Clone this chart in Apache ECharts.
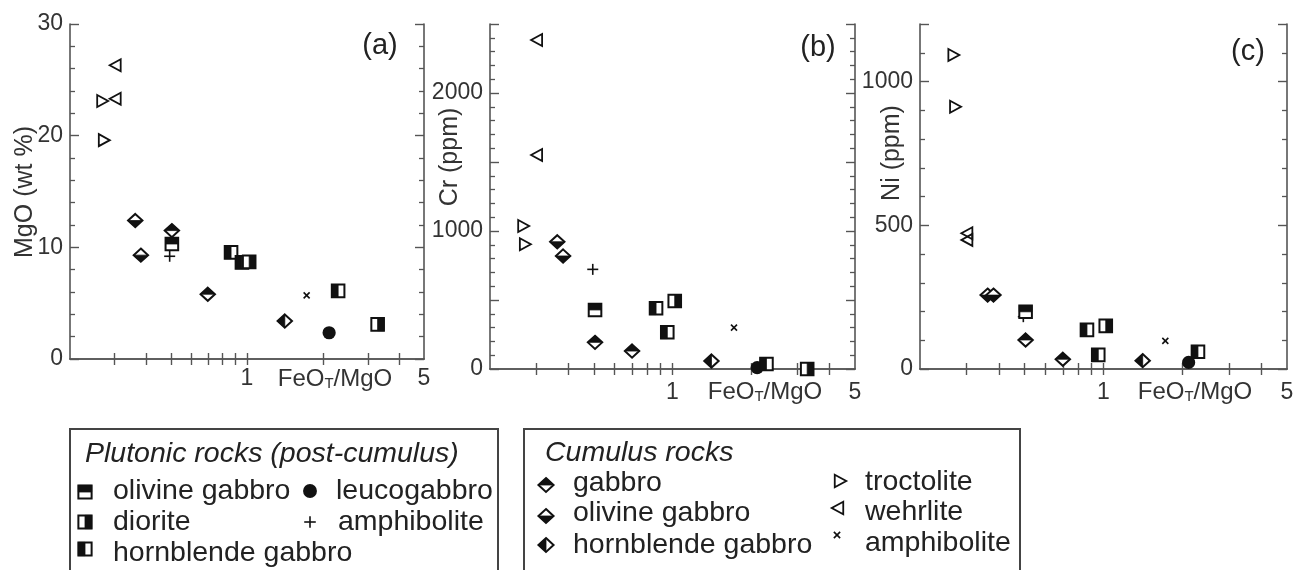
<!DOCTYPE html>
<html>
<head>
<meta charset="utf-8">
<script src="https://cdn.jsdelivr.net/npm/echarts@6/dist/echarts.min.js"></script>
<style>
  html, body { margin: 0; padding: 0; background: #fff; }
  #chart { width: 1310px; height: 570px; }
</style>
</head>
<body>
<div id="chart"></div>
<script>
  // FeOT/MgO of each sample, and MgO (wt %), Cr (ppm), Ni (ppm) per panel
  // plutonic rocks (post-cumulus)
  var plOlGabbroX = [0.505]
  var plOlGabbroMgO = [10.3]
  var plOlGabbroCr = [428]
  var plOlGabbroNi = [199]

  var dioriteX = [1.02, 3.28]
  var dioriteMgO = [8.7, 3.1]
  var dioriteCr = [493, 0]
  var dioriteNi = [150, null]

  var plHblGabbroX = [0.865, 0.955, 2.29]
  var plHblGabbroMgO = [9.55, 8.65, 6.1]
  var plHblGabbroCr = [440, 266, 36]
  var plHblGabbroNi = [136, 49, 60]

  var leucogabbroX = [2.11]
  var leucogabbroMgO = [2.35]
  var leucogabbroCr = [10]
  var leucogabbroNi = [23]

  var plAmphX = [0.495]
  var plAmphMgO = [9.2]
  var plAmphCr = [722]
  var plAmphNi = [182]

  // cumulus rocks
  var cuGabbroX = [0.505, 0.70]
  var cuGabbroMgO = [11.5, 5.8]
  var cuGabbroCr = [193, 130]
  var cuGabbroNi = [101, 34]

  var cuOlGabbroX = [0.362, 0.381]
  var cuOlGabbroMgO = [12.4, 9.3]
  var cuOlGabbroCr = [922, 819]
  var cuOlGabbroNi = [257, 257]

  var cuHblGabbroX = [1.41]
  var cuHblGabbroMgO = [3.4]
  var cuHblGabbroCr = [58]
  var cuHblGabbroNi = [29]

  var troctoliteX = [0.268, 0.272]
  var troctoliteMgO = [23.1, 19.6]
  var troctoliteCr = [1036, 904]
  var troctoliteNi = [1092, 912]

  var wehrliteX = [0.303, 0.303]
  var wehrliteMgO = [26.3, 23.3]
  var wehrliteCr = [2384, 1551]
  var wehrliteNi = [472, 449]

  var cuAmphX = [1.72]
  var cuAmphMgO = [5.7]
  var cuAmphCr = [300]
  var cuAmphNi = [98]

  // axes
  var xTicks = [0.3, 0.4, 0.5, 0.6, 0.7, 0.8, 0.9, 1, 2, 3, 4]
  var xLabels = [1, 5]
  var yTitles = ['MgO (wt %)', 'Cr (ppm)', 'Ni (ppm)']
  var panelTags = ['(a)', '(b)', '(c)']

  var INK = '#111'
  var AXIS = '#555'
  var FONT = '"Liberation Sans", Arial, sans-serif'

  var panels = [
    { left: 70, top: 24, width: 354, height: 335, yMax: 30, yMajor: 10, yLabelEvery: 10, xMargin: 8,
      yName: [25, 192], tag: [380, 46], xName: [335, 379] },
    { left: 490, top: 24, width: 365, height: 345, yMax: 2500, yMajor: 500, yLabelEvery: 1000, xMargin: 12,
      yName: [450, 157], tag: [818, 48], xName: [765, 392] },
    { left: 920, top: 24, width: 367, height: 345, yMax: 1200, yMajor: 500, yLabelEvery: 500, xMargin: 12,
      yName: [892, 153], tag: [1248, 52], xName: [1195, 392] }
  ]

  function markerShapes(kind, x, y, k) {
    k = k || 1
    var out = []
    var s = 6.3 * k
    function outline(pts, fill, lw) {
      out.push({ type: 'polygon', shape: { points: pts }, style: { fill: fill, stroke: INK, lineWidth: lw || 1.5 } })
    }
    function solid(pts) {
      out.push({ type: 'polygon', shape: { points: pts }, style: { fill: INK, stroke: INK, lineWidth: 0.8 } })
    }
    function seg(x1, y1, x2, y2, lw) {
      out.push({ type: 'line', shape: { x1: x1, y1: y1, x2: x2, y2: y2 }, style: { stroke: INK, lineWidth: lw } })
    }
    var sq = [[x - s, y - s], [x + s, y - s], [x + s, y + s], [x - s, y + s]]
    var dw = 7.2 * k, dh = 6.6 * k
    var dm = [[x, y - dh], [x + dw, y], [x, y + dh], [x - dw, y]]
    switch (kind) {
      case 'sqTop':
        outline(sq, '#fff', 2); solid([[x - s, y - s], [x + s, y - s], [x + s, y], [x - s, y]]); break
      case 'sqRight':
        outline(sq, '#fff', 2); solid([[x, y - s], [x + s, y - s], [x + s, y + s], [x, y + s]]); break
      case 'sqLeft':
        outline(sq, '#fff', 2); solid([[x - s, y - s], [x, y - s], [x, y + s], [x - s, y + s]]); break
      case 'dTop':
        outline(dm, '#fff', 2); solid([[x, y - dh], [x + dw, y], [x - dw, y]]); break
      case 'dBottom':
        outline(dm, '#fff', 2); solid([[x + dw, y], [x, y + dh], [x - dw, y]]); break
      case 'dLeft':
        outline(dm, '#fff', 2); solid([[x, y - dh], [x, y + dh], [x - dw, y]]); break
      case 'circle':
        out.push({ type: 'circle', shape: { cx: x, cy: y, r: 6.6 * k }, style: { fill: INK } }); break
      case 'plus':
        seg(x - 5.5 * k, y, x + 5.5 * k, y, 1.6); seg(x, y - 5.5 * k, x, y + 5.5 * k, 1.6); break
      case 'cross':
        seg(x - 3 * k, y - 3 * k, x + 3 * k, y + 3 * k, 1.6); seg(x - 3 * k, y + 3 * k, x + 3 * k, y - 3 * k, 1.6); break
      case 'triRight':
        outline([[x - 5 * k, y - 6 * k], [x + 6 * k, y], [x - 5 * k, y + 6 * k]], 'none', 1.8); break
      case 'triLeft':
        outline([[x + 5 * k, y - 6 * k], [x - 6 * k, y], [x + 5 * k, y + 6 * k]], 'none', 1.8); break
    }
    return out
  }

  // drawing order: later ones on top
  var groups = [
    ['circle', leucogabbroX, [leucogabbroMgO, leucogabbroCr, leucogabbroNi]],
    ['triRight', troctoliteX, [troctoliteMgO, troctoliteCr, troctoliteNi]],
    ['triLeft', wehrliteX, [wehrliteMgO, wehrliteCr, wehrliteNi]],
    ['dTop', cuGabbroX, [cuGabbroMgO, cuGabbroCr, cuGabbroNi]],
    ['dBottom', cuOlGabbroX, [cuOlGabbroMgO, cuOlGabbroCr, cuOlGabbroNi]],
    ['dLeft', cuHblGabbroX, [cuHblGabbroMgO, cuHblGabbroCr, cuHblGabbroNi]],
    ['cross', cuAmphX, [cuAmphMgO, cuAmphCr, cuAmphNi]],
    ['plus', plAmphX, [plAmphMgO, plAmphCr, plAmphNi]],
    ['sqTop', plOlGabbroX, [plOlGabbroMgO, plOlGabbroCr, plOlGabbroNi]],
    ['sqLeft', plHblGabbroX, [plHblGabbroMgO, plHblGabbroCr, plHblGabbroNi]],
    ['sqRight', dioriteX, [dioriteMgO, dioriteCr, dioriteNi]]
  ]

  var grids = [], xAxes = [], yAxes = [], series = [], graphics = []

  panels.forEach(function (p, gi) {
    grids.push({ left: p.left, top: p.top, width: p.width, height: p.height })
    ;['bottom', 'top'].forEach(function (pos) {
      xAxes.push({
        type: 'log', logBase: 10, min: 0.2, max: 5, gridIndex: gi, position: pos,
        axisLine: { show: true, lineStyle: { color: AXIS, width: 1.6 } },
        axisTick: { show: true, inside: true, length: 6, customValues: xTicks, lineStyle: { color: AXIS, width: 1.4 } },
        axisLabel: {
          show: pos === 'bottom', customValues: xLabels, margin: p.xMargin,
          color: '#333', fontSize: 23, fontFamily: FONT,
          formatter: function (v) { return String(Math.round(v)) }
        },
        splitLine: { show: false }
      })
    })
    ;['left', 'right'].forEach(function (pos) {
      yAxes.push({
        type: 'value', min: 0, max: p.yMax, interval: p.yMajor, gridIndex: gi, position: pos,
        axisLine: { show: true, lineStyle: { color: AXIS, width: 1.6 } },
        axisTick: { show: true, inside: true, length: 9, lineStyle: { color: AXIS, width: 1.4 } },
        minorTick: { show: true, splitNumber: 5, length: 5, lineStyle: { color: AXIS, width: 1.3 } },
        axisLabel: {
          show: pos === 'left', margin: 7, color: '#333', fontSize: 23, fontFamily: FONT,
          formatter: function (v) { return v % p.yLabelEvery === 0 ? String(v) : '' }
        },
        splitLine: { show: false }
      })
    })

    groups.forEach(function (g) {
      var xs = g[1], ys = g[2][gi], data = []
      xs.forEach(function (x, i) { if (ys[i] != null) data.push([x, ys[i]]) })
      series.push({
        type: 'custom', coordinateSystem: 'cartesian2d',
        xAxisIndex: gi * 2, yAxisIndex: gi * 2, data: data, clip: false, silent: true,
        renderItem: function (params, api) {
          var pt = api.coord([api.value(0), api.value(1)])
          return { type: 'group', children: markerShapes(g[0], pt[0], pt[1]) }
        }
      })
    })

    graphics.push({
      type: 'text', x: p.yName[0], y: p.yName[1], rotation: Math.PI / 2,
      style: { text: yTitles[gi], fontSize: 25, fontFamily: FONT, fill: '#333', align: 'center', verticalAlign: 'middle' }
    })
    graphics.push({
      type: 'text', x: p.tag[0], y: p.tag[1],
      style: { text: panelTags[gi], fontSize: 29, fontFamily: FONT, fill: '#222', align: 'center', verticalAlign: 'middle' }
    })
    graphics.push({
      type: 'text', x: p.xName[0], y: p.xName[1],
      style: {
        text: 'FeO{sub|T}/MgO', fontSize: 24, fontFamily: FONT, fill: '#333', align: 'center', verticalAlign: 'middle',
        rich: { sub: { fontSize: 15, fontFamily: FONT, fill: '#333', verticalAlign: 'bottom', padding: [8, 0, 0, 0] } }
      }
    })
  })

  // legend boxes
  function legendText(x, y, text, italic) {
    return {
      type: 'text', x: x, y: y,
      style: { text: text, fontSize: 28.5, fontFamily: FONT, fontStyle: italic ? 'italic' : 'normal', fill: '#222', verticalAlign: 'middle' }
    }
  }
  function legendMark(kind, x, y) {
    return { type: 'group', children: markerShapes(kind, x, y, 1.05) }
  }
  var boxStyle = { fill: 'none', stroke: '#444', lineWidth: 2 }
  graphics.push({ type: 'rect', shape: { x: 70, y: 429, width: 428, height: 160 }, style: boxStyle })
  graphics.push(legendText(85, 454, 'Plutonic rocks (post-cumulus)', true))
  graphics.push(legendMark('sqTop', 85, 492), legendText(113, 491, 'olivine gabbro'))
  graphics.push(legendMark('sqRight', 85, 522), legendText(113, 522, 'diorite'))
  graphics.push(legendMark('sqLeft', 85, 549), legendText(113, 553, 'hornblende gabbro'))
  graphics.push(legendMark('circle', 310, 491), legendText(336, 491, 'leucogabbro'))
  graphics.push(legendMark('plus', 310, 522), legendText(338, 522, 'amphibolite'))

  graphics.push({ type: 'rect', shape: { x: 524, y: 429, width: 496, height: 160 }, style: boxStyle })
  graphics.push(legendText(545, 453, 'Cumulus rocks', true))
  graphics.push(legendMark('dTop', 546, 485), legendText(573, 483, 'gabbro'))
  graphics.push(legendMark('dBottom', 546, 516), legendText(573, 513, 'olivine gabbro'))
  graphics.push(legendMark('dLeft', 546, 545), legendText(573, 545, 'hornblende gabbro'))
  graphics.push(legendMark('triRight', 840, 481), legendText(865, 482, 'troctolite'))
  graphics.push(legendMark('triLeft', 838, 508), legendText(865, 512, 'wehrlite'))
  graphics.push(legendMark('cross', 837, 535), legendText(865, 543, 'amphibolite'))

  var chart = echarts.init(document.getElementById('chart'), null, { renderer: 'canvas' })
  chart.setOption({
    animation: false,
    backgroundColor: '#fff',
    grid: grids,
    xAxis: xAxes,
    yAxis: yAxes,
    series: series,
    graphic: graphics
  })
</script>
</body>
</html>
